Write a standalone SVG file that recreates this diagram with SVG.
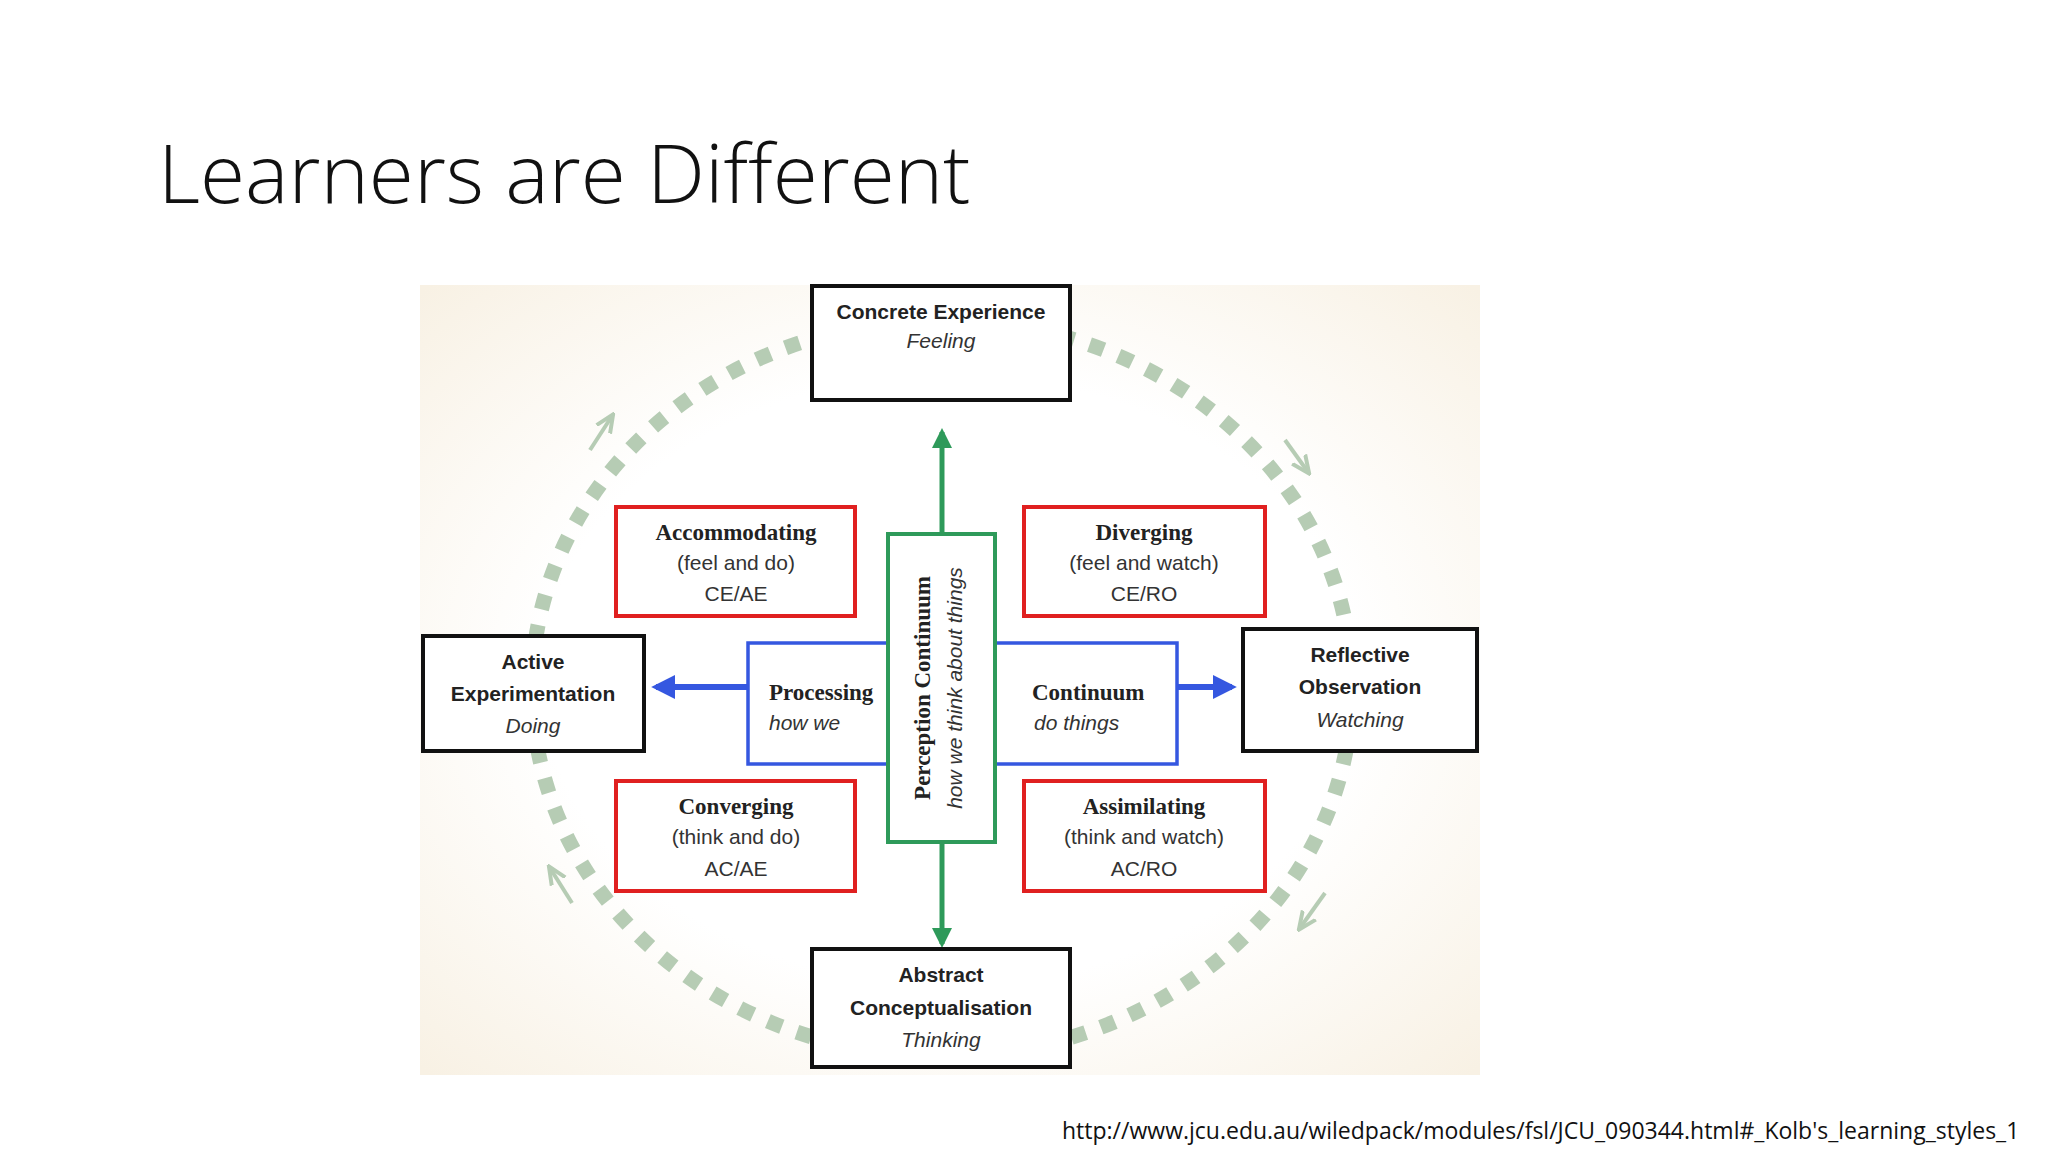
<svg xmlns="http://www.w3.org/2000/svg" width="2048" height="1152" viewBox="0 0 2048 1152">
<defs>
<radialGradient id="bg" cx="0.5" cy="0.5" r="0.7">
<stop offset="0.55" stop-color="#ffffff"/><stop offset="1" stop-color="#f8f1e4"/>
</radialGradient>
<marker id="ga" viewBox="0 0 10 10" refX="8" refY="5" markerWidth="4" markerHeight="4" orient="auto"><path d="M0,0 L10,5 L0,10 z" fill="#2e9a5a"/></marker>
<marker id="ba" viewBox="0 0 10 10" refX="8" refY="5" markerWidth="4" markerHeight="4" orient="auto"><path d="M0,0 L10,5 L0,10 z" fill="#3557e0"/></marker>
<marker id="la" viewBox="0 0 10 10" refX="8" refY="5" markerWidth="5" markerHeight="5" orient="auto"><path d="M0,1 L9,5 L0,9" fill="none" stroke="#b6ccb4" stroke-width="2"/></marker>
</defs>
<style>
.blk{fill:#fff;stroke:#111;stroke-width:4}
.red{fill:#fff;stroke:#e02020;stroke-width:4}
.s{font-family:"Liberation Sans",Arial,sans-serif;font-size:21px;fill:#222;text-anchor:middle}
.sb{font-weight:bold}
.i{font-style:italic;fill:#333}
.r{font-family:"Liberation Serif",serif;font-size:23px;font-weight:bold;fill:#222;text-anchor:middle}
.rs{font-family:"Liberation Sans",Arial,sans-serif;font-size:21px;fill:#333;text-anchor:middle}
</style>
<rect width="2048" height="1152" fill="#fff"/>
<text x="158" y="203" font-family="'Open Sans',sans-serif" font-weight="300" font-size="82" fill="#111">Learners are Different</text>
<rect x="420" y="285" width="1060" height="790" fill="url(#bg)"/>
<g id="cycle">
<ellipse cx="942" cy="688" rx="410" ry="368" fill="none" stroke="#b6ccb4" stroke-width="15" stroke-dasharray="15 16"/>
<line x1="590" y1="450" x2="612" y2="416" stroke="#b6ccb4" stroke-width="4" marker-end="url(#la)"/>
<line x1="1285" y1="440" x2="1308" y2="472" stroke="#b6ccb4" stroke-width="4" marker-end="url(#la)"/>
<line x1="1325" y1="893" x2="1300" y2="928" stroke="#b6ccb4" stroke-width="4" marker-end="url(#la)"/>
<line x1="572" y1="903" x2="550" y2="868" stroke="#b6ccb4" stroke-width="4" marker-end="url(#la)"/>
</g>
<g id="connectors">
<line x1="942" y1="534" x2="942" y2="432" stroke="#2e9a5a" stroke-width="5" marker-end="url(#ga)"/>
<line x1="942" y1="842" x2="942" y2="944" stroke="#2e9a5a" stroke-width="5" marker-end="url(#ga)"/>
<line x1="748" y1="687" x2="656" y2="687" stroke="#3557e0" stroke-width="6" marker-end="url(#ba)"/>
<line x1="1177" y1="687" x2="1232" y2="687" stroke="#3557e0" stroke-width="6" marker-end="url(#ba)"/>
</g>
<g id="processing">
<rect x="748" y="643" width="429" height="121" fill="#fff" stroke="#3557e0" stroke-width="3.5"/>
<text x="769" y="700" font-family="'Liberation Serif',serif" font-weight="bold" font-size="23" fill="#222">Processing</text>
<text x="769" y="730" class="s i" style="text-anchor:start">how we</text>
<text x="1032" y="700" font-family="'Liberation Serif',serif" font-weight="bold" font-size="23" fill="#222">Continuum</text>
<text x="1034" y="730" class="s i" style="text-anchor:start">do things</text>
</g>
<g id="perception">
<rect x="888" y="534" width="107" height="308" fill="#fff" stroke="#2e9a5a" stroke-width="4"/>
<text transform="translate(930,688) rotate(-90)" class="r">Perception Continuum</text>
<text transform="translate(962,688) rotate(-90)" class="s i">how we think about things</text>
</g>
<g id="ce"><rect x="812" y="286" width="258" height="114" class="blk"/>
<text x="941" y="319" class="s sb">Concrete Experience</text><text x="941" y="348" class="s i">Feeling</text></g>
<g id="ac"><rect x="812" y="949" width="258" height="118" class="blk"/>
<text x="941" y="982" class="s sb">Abstract</text><text x="941" y="1015" class="s sb">Conceptualisation</text><text x="941" y="1047" class="s i">Thinking</text></g>
<g id="ae"><rect x="423" y="636" width="221" height="115" class="blk"/>
<text x="533" y="669" class="s sb">Active</text><text x="533" y="701" class="s sb">Experimentation</text><text x="533" y="733" class="s i">Doing</text></g>
<g id="ro"><rect x="1243" y="629" width="234" height="122" class="blk"/>
<text x="1360" y="662" class="s sb">Reflective</text><text x="1360" y="694" class="s sb">Observation</text><text x="1360" y="727" class="s i">Watching</text></g>
<g id="accommodating"><rect x="616" y="507" width="239" height="109" class="red"/>
<text x="736" y="540" class="r">Accommodating</text><text x="736" y="570" class="rs">(feel and do)</text><text x="736" y="601" class="rs">CE/AE</text></g>
<g id="diverging"><rect x="1024" y="507" width="241" height="109" class="red"/>
<text x="1144" y="540" class="r">Diverging</text><text x="1144" y="570" class="rs">(feel and watch)</text><text x="1144" y="601" class="rs">CE/RO</text></g>
<g id="converging"><rect x="616" y="781" width="239" height="110" class="red"/>
<text x="736" y="814" class="r">Converging</text><text x="736" y="844" class="rs">(think and do)</text><text x="736" y="876" class="rs">AC/AE</text></g>
<g id="assimilating"><rect x="1024" y="781" width="241" height="110" class="red"/>
<text x="1144" y="814" class="r">Assimilating</text><text x="1144" y="844" class="rs">(think and watch)</text><text x="1144" y="876" class="rs">AC/RO</text></g>
<text x="1062" y="1139" font-family="'Open Sans',sans-serif" font-size="23" fill="#111">http://www.jcu.edu.au/wiledpack/modules/fsl/JCU_090344.html#_Kolb's_learning_styles_1</text>
</svg>
